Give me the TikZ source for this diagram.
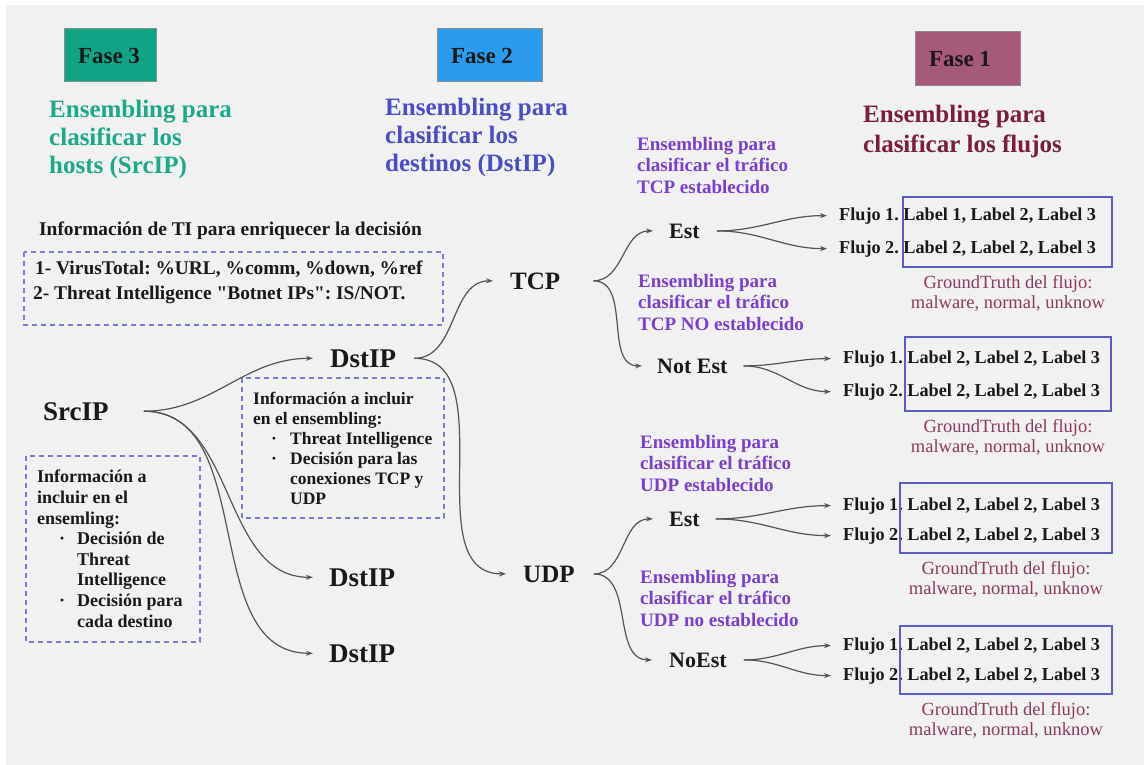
\documentclass[tikz,border=0pt]{standalone}
\usepackage{fontspec}
\setmainfont{Liberation Serif}[Ligatures=TeXOff]
\usetikzlibrary{arrows.meta}
\definecolor{bgpanel}{HTML}{F1F1F1}
\definecolor{fasethree}{HTML}{0EA585}
\definecolor{fasetwo}{HTML}{2B9BF0}
\definecolor{faseone}{HTML}{A65978}
\definecolor{tthree}{HTML}{1BA98A}
\definecolor{ttwo}{HTML}{4A4EC4}
\definecolor{tone}{HTML}{7A1E3A}
\definecolor{purp}{HTML}{7B3FCB}
\definecolor{dashc}{HTML}{7B7BDC}
\definecolor{boxc}{HTML}{5C5CC8}
\definecolor{gtc}{HTML}{8C3A5E}
\definecolor{conncol}{HTML}{555555}
\newcommand\bulit[2]{\makebox[#2][l]{\hspace*{#1}·}}
\newcommand\indit[1]{\hspace*{#1}}
\frenchspacing
\begin{document}
\frenchspacing
\begin{tikzpicture}[x=1pt,y=-1pt,
  conn/.style={draw=conncol, line width=1.2pt, -{Stealth[length=7pt,width=5pt]}},
  bignode/.style={inner sep=0pt, anchor=base west, text=black!90, font=\bfseries\fontsize{27}{30}\selectfont},
  midnode/.style={inner sep=0pt, anchor=base west, text=black!90, font=\bfseries\fontsize{22}{26}\selectfont},
  flownode/.style={inner sep=0pt, anchor=base west, text=black!90, font=\bfseries\fontsize{18.2}{20}\selectfont},
  infotext/.style={inner sep=0pt, anchor=base west, text=black!90, font=\bfseries\fontsize{19.4}{22}\selectfont},
  boxtext/.style={inner sep=0pt, anchor=north west, align=left, text=black!90, font=\bfseries\fontsize{17.5}{20}\selectfont},
  titletext/.style={inner sep=0pt, anchor=north west, align=left, font=\bfseries\fontsize{25}{28}\selectfont},
  purptext/.style={inner sep=0pt, anchor=north west, align=left, text=purp, font=\bfseries\fontsize{19}{21.5}\selectfont},
  gttext/.style={inner sep=0pt, anchor=north, align=center, text=gtc, font=\fontsize{18.5}{20}\selectfont},
  fasetext/.style={inner sep=0pt, text=black!90, font=\bfseries\fontsize{23}{26}\selectfont},
  dashbox/.style={draw=dashc, line width=1.3pt, dash pattern=on 5pt off 4pt},
  flowbox/.style={draw=boxc, line width=1.8pt},
  fasebox/.style={draw=black!45, line width=1pt}
]
\useasboundingbox (0,0) rectangle (1144,765);
\fill[white] (0,0) rectangle (1144,765);
\fill[bgpanel] (6,5) rectangle (1144,765);

% Phase boxes
\draw[fasebox, fill=fasethree] (64,29) rectangle (156,82);
\node[fasetext] (f3) at (109,56) {Fase 3};
\draw[fasebox, fill=fasetwo] (437,29) rectangle (542,82);
\node[fasetext] (f2) at (482,56) {Fase 2};
\draw[fasebox, fill=faseone] (915,32) rectangle (1020,86);
\node[fasetext] (f1) at (960,59) {Fase 1};

% Titles
\node[titletext, text=tthree] (t3) at (49,100) {Ensembling para\\clasificar los\\hosts (SrcIP)};
\node[titletext, text=ttwo] (t2) at (385,98) {Ensembling para\\clasificar los\\destinos (DstIP)};
\node[titletext, text=tone, font=\bfseries\fontsize{25}{30}\selectfont] (t1) at (863,105) {Ensembling para\\clasificar los flujos};

% Purple captions
\node[purptext] (p1) at (637,137) {Ensembling para\\clasificar el tráfico\\TCP establecido};
\node[purptext] (p2) at (638,274) {Ensembling para\\clasificar el tráfico\\TCP NO establecido};
\node[purptext] (p3) at (640,435) {Ensembling para\\clasificar el tráfico\\UDP establecido};
\node[purptext] (p4) at (640,570) {Ensembling para\\clasificar el tráfico\\UDP no establecido};

% TI info
\node[infotext] (tih) at (39,235) {Información de TI para enriquecer la decisión};
\draw[dashbox] (24,252) rectangle (443,325);
\node[infotext] (vt) at (35,274) {1- VirusTotal: \%URL, \%comm, \%down, \%ref};
\node[infotext] (tib) at (33,299) {2- Threat Intelligence "Botnet IPs": IS/NOT.};

% Info box near DstIP
\draw[dashbox] (242,378) rectangle (444,518);
\node[boxtext] (bx2) at (253,392) {Información a incluir\\en el ensembling:\\\bulit{18pt}{37pt}Threat Intelligence\\\bulit{18pt}{37pt}Decisión para las\\\indit{37pt}conexiones TCP y\\\indit{37pt}UDP};

% Info box near SrcIP
\draw[dashbox] (26,456) rectangle (200,642);
\node[boxtext, font=\bfseries\fontsize{18}{20.6}\selectfont] (bx3) at (37,470) {Información a\\incluir en el\\ensemling:\\\bulit{22pt}{40pt}Decisión de\\\indit{40pt}Threat\\\indit{40pt}Intelligence\\\bulit{22pt}{40pt}Decisión para\\\indit{40pt}cada destino};

% Main nodes
\node[bignode] (src) at (43,420) {SrcIP};
\node[bignode] (d1) at (330,367) {DstIP};
\node[bignode] (d2) at (329,586) {DstIP};
\node[bignode] (d3) at (329,662) {DstIP};
\node[bignode, font=\bfseries\fontsize{25}{28}\selectfont] (tcp) at (510,289) {TCP};
\node[bignode, font=\bfseries\fontsize{25}{28}\selectfont] (udp) at (523,582) {UDP};
\node[midnode] (est1) at (669,238) {Est};
\node[midnode] (nest1) at (657,373) {Not Est};
\node[midnode] (est2) at (669,526) {Est};
\node[midnode] (nest2) at (669,667) {NoEst};

% Flows
\node[flownode] (a1) at (839,220) {Flujo 1. Label 1, Label 2, Label 3};
\node[flownode] (a2) at (839,253) {Flujo 2. Label 2, Label 2, Label 3};
\node[flownode] (b1) at (843,363) {Flujo 1. Label 2, Label 2, Label 3};
\node[flownode] (b2) at (843,396) {Flujo 2. Label 2, Label 2, Label 3};
\node[flownode] (c1) at (843,510) {Flujo 1. Label 2, Label 2, Label 3};
\node[flownode] (c2) at (843,540) {Flujo 2. Label 2, Label 2, Label 3};
\node[flownode] (e1) at (843,650) {Flujo 1. Label 2, Label 2, Label 3};
\node[flownode] (e2) at (843,680) {Flujo 2. Label 2, Label 2, Label 3};

\draw[flowbox] (903,197) rectangle (1112,267);
\draw[flowbox] (905,337) rectangle (1111,411);
\draw[flowbox] (900,483) rectangle (1112,553);
\draw[flowbox] (900,626) rectangle (1112,694);

\node[gttext] (g1) at (1008,275) {GroundTruth del flujo:\\malware, normal, unknow};
\node[gttext] (g2) at (1008,419) {GroundTruth del flujo:\\malware, normal, unknow};
\node[gttext] (g3) at (1006,561) {GroundTruth del flujo:\\malware, normal, unknow};
\node[gttext] (g4) at (1006,702) {GroundTruth del flujo:\\malware, normal, unknow};

% Connectors
\draw[conn] ([xshift=35pt]src.east) to[out=0,in=180] ([xshift=-17pt]d1.west);
\draw[conn] ([xshift=35pt]src.east) to[out=0,in=180] ([xshift=-16pt]d2.west);
\draw[conn] ([xshift=35pt]src.east) to[out=0,in=180] ([xshift=-16pt]d3.west);
\draw[conn] ([xshift=18pt]d1.east) to[out=0,in=180] ([xshift=-17pt]tcp.west);
\draw[conn] ([xshift=18pt]d1.east) to[out=0,in=180] ([xshift=-17pt]udp.west);
\draw[conn] ([xshift=33pt]tcp.east) to[out=0,in=180] ([xshift=-16pt]est1.west);
\draw[conn] ([xshift=33pt]tcp.east) to[out=0,in=180] ([xshift=-15pt]nest1.west);
\draw[conn] ([xshift=19pt]udp.east) to[out=0,in=180] ([xshift=-16pt]est2.west);
\draw[conn] ([xshift=19pt]udp.east) to[out=0,in=180] ([xshift=-17pt]nest2.west);
\draw[conn] ([xshift=17pt]est1.east) to[out=0,in=180] ([xshift=-12pt]a1.west);
\draw[conn] ([xshift=17pt]est1.east) to[out=0,in=180] ([xshift=-12pt]a2.west);
\draw[conn] ([xshift=16pt]nest1.east) to[out=0,in=180] ([xshift=-12pt]b1.west);
\draw[conn] ([xshift=16pt]nest1.east) to[out=0,in=180] ([xshift=-12pt]b2.west);
\draw[conn] ([xshift=16pt]est2.east) to[out=0,in=180] ([xshift=-12pt]c1.west);
\draw[conn] ([xshift=16pt]est2.east) to[out=0,in=180] ([xshift=-12pt]c2.west);
\draw[conn] ([xshift=17pt]nest2.east) to[out=0,in=180] ([xshift=-12pt]e1.west);
\draw[conn] ([xshift=17pt]nest2.east) to[out=0,in=180] ([xshift=-12pt]e2.west);
\end{tikzpicture}
\end{document}
